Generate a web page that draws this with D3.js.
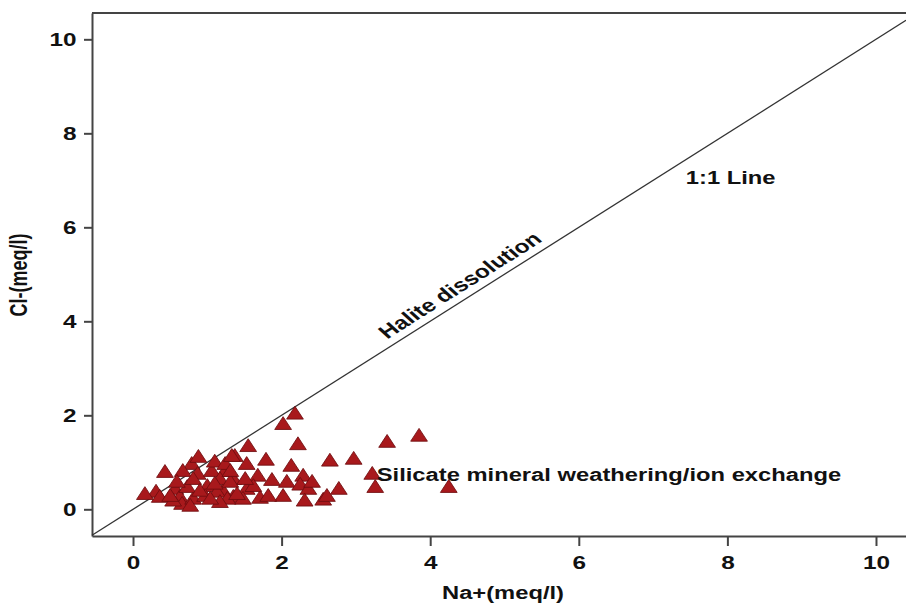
<!DOCTYPE html>
<html>
  <head>
  <title>Na vs Cl</title>
  </head>
  <body style="margin:0">
  <style>
    body, html { margin: 0; padding: 0; background: #fff; }
    text { font-family: "Liberation Sans", Arial, sans-serif; font-weight: bold; fill: #111; }
  </style>

  <svg id="svg" width="906" height="603"></svg>

  <script src="https://cdn.jsdelivr.net/npm/d3@7"></script>
  <script>
    // Na+ (meq/l) values
    const na = [2.18, 2.02, 2.22, 1.55, 1.79, 2.13, 1.37, 1.53, 1.87, 1.68,
                2.07, 2.29, 2.25, 2.36, 2.02, 2.31, 1.71, 1.53, 1.35, 1.35,
                1.21, 1.62, 1.24, 1.48, 1.82, 3.42, 3.85, 2.65, 2.97, 3.22,
                3.26, 4.25, 2.77, 2.56, 2.61, 2.41, 0.43, 0.79, 0.67, 0.31,
                0.36, 0.57, 0.63, 0.66, 0.81, 0.87, 1.00, 1.06, 1.10, 1.24,
                1.33, 1.17, 1.31, 1.13, 0.97, 0.73, 0.59, 1.27, 1.40, 1.17,
                0.77, 0.54, 0.50, 1.31, 0.81, 0.16, 0.90, 1.04, 1.51, 1.10,
                0.88]
    // Cl- (meq/l) values, same order
    const cl = [2.01, 1.79, 1.36, 1.32, 1.03, 0.90, 1.11, 0.94, 0.60, 0.69,
                0.56, 0.69, 0.50, 0.41, 0.26, 0.16, 0.22, 0.41, 0.62, 0.24,
                0.37, 0.47, 0.79, 0.20, 0.26, 1.41, 1.54, 1.01, 1.05, 0.73,
                0.45, 0.45, 0.41, 0.18, 0.26, 0.56, 0.77, 0.94, 0.79, 0.35,
                0.24, 0.41, 0.24, 0.09, 0.20, 0.73, 0.47, 0.79, 0.99, 0.94,
                1.11, 0.62, 0.56, 0.35, 0.26, 0.45, 0.56, 0.20, 0.30, 0.13,
                0.05, 0.16, 0.26, 0.79, 0.62, 0.30, 0.37, 0.20, 0.62, 0.52,
                1.09]
    const ticks = [0, 2, 4, 6, 8, 10]

    const svg = d3.select('#svg')

    // the original figure is stretched sideways, so text gets a wider x scale
    const sx = 1.32

    const xScale = d3.scaleLinear()
      .domain([-0.552, 10.404])
      .range([92, 906])
    const yScale = d3.scaleLinear()
      .domain([-0.568, 10.56])
      .range([536, 13])

    const axisColor = '#444'

    // axes
    const xAxis = svg.append('g')
      .attr('transform', 'translate(0,536)')
      .call(d3.axisBottom(xScale).tickValues(ticks).tickSize(10).tickSizeOuter(0).tickPadding(4))
    const yAxis = svg.append('g')
      .attr('transform', 'translate(92,0)')
      .call(d3.axisLeft(yScale).tickValues(ticks).tickSize(8).tickSizeOuter(0).tickPadding(4))

    for (const ax of [xAxis, yAxis]) {
      ax.select('.domain').attr('stroke', axisColor).attr('stroke-width', 2)
      ax.selectAll('.tick line').attr('stroke', axisColor).attr('stroke-width', 2)
      ax.selectAll('.tick text')
        .style('font-family', '"Liberation Sans", Arial, sans-serif')
        .style('font-weight', 'bold')
        .style('font-size', '19px')
        .attr('fill', '#111')
        .attr('transform', 'scale(1.28,1)')
    }
    xAxis.selectAll('.tick text').attr('dy', '1em')
    yAxis.selectAll('.tick text').attr('dy', '0.35em')

    // top frame line
    svg.append('line')
      .attr('x1', xScale.range()[0]).attr('x2', xScale.range()[1])
      .attr('y1', yScale.range()[1]).attr('y2', yScale.range()[1])
      .attr('stroke', axisColor).attr('stroke-width', 2)

    // 1:1 line
    const lo = xScale.domain()[0], hi = xScale.domain()[1]
    svg.append('line')
      .attr('x1', xScale(lo)).attr('y1', yScale(lo))
      .attr('x2', xScale(hi)).attr('y2', yScale(hi))
      .attr('stroke', '#333').attr('stroke-width', 1.3)

    // points
    const pts = na.map((d, i) => ({ na: d, cl: cl[i] }))
    svg.append('g')
      .selectAll('path')
      .data(pts)
      .join('path')
      .attr('d', d3.symbol(d3.symbolTriangle, 95))
      .attr('transform', d => `translate(${xScale(d.na)},${yScale(d.cl)}) scale(1.13,1)`)
      .attr('fill', '#a8191c')
      .attr('stroke', '#6e0d0f')
      .attr('stroke-width', 0.8)

    // annotations
    const slope = (yScale(0) - yScale(1)) / (xScale(1) - xScale(0))
    const angle = -Math.atan(slope * sx) * 180 / Math.PI
    svg.append('text')
      .attr('transform', `translate(${xScale(3.5)},${yScale(3.5)}) scale(${sx},1) rotate(${angle})`)
      .attr('dy', -7)
      .style('font-size', '18.5px')
      .text('Halite dissolution')

    svg.append('text')
      .attr('transform', `translate(${xScale(7.44)},${yScale(6.93)}) scale(${sx},1)`)
      .style('font-size', '18px')
      .text('1:1 Line')

    svg.append('text')
      .attr('transform', `translate(${xScale(3.28)},${yScale(0.6)}) scale(${sx},1)`)
      .style('font-size', '18px')
      .text('Silicate mineral weathering/ion exchange')

    svg.append('text')
      .attr('transform', `translate(503,599) scale(${sx},1)`)
      .attr('text-anchor', 'middle')
      .style('font-size', '18px')
      .text('Na+(meq/l)')

    svg.append('text')
      .attr('transform', `translate(27,275) scale(${sx},1) rotate(-90)`)
      .attr('text-anchor', 'middle')
      .style('font-size', '18px')
      .text('Cl-(meq/l)')
  </script>
  </body>
</html>
